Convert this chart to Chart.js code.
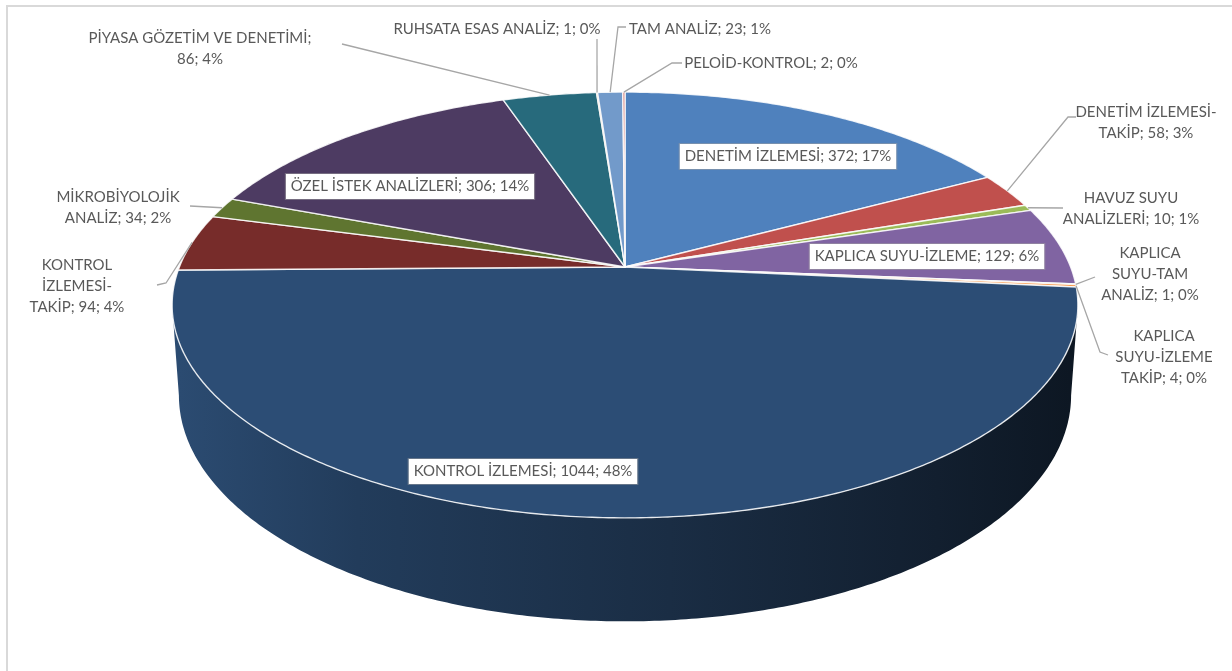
<!DOCTYPE html>
<html>
<head>
<meta charset="utf-8">
<script src="https://cdn.jsdelivr.net/npm/chart.js@4.4.1/dist/chart.umd.min.js"></script>
<style>
  html, body { margin: 0; padding: 0; background: #fff; overflow: hidden; }
  #frame { position: absolute; left: 6px; top: 5px; width: 1240px; height: 680px;
           border-left: 2px solid #d9d9d9; border-top: 2px solid #d9d9d9; }
  #pie { position: absolute; left: 0; top: 0; }
</style>
</head>
<body>
<div id="frame"></div>
<canvas id="pie" width="1232" height="671"></canvas>
<script>
const categories = [
  "DENETİM İZLEMESİ", "DENETİM İZLEMESİ-TAKİP", "HAVUZ SUYU ANALİZLERİ",
  "KAPLICA SUYU-İZLEME", "KAPLICA SUYU-TAM ANALİZ", "KAPLICA SUYU-İZLEME TAKİP",
  "KONTROL İZLEMESİ", "KONTROL İZLEMESİ-TAKİP", "MİKROBİYOLOJİK ANALİZ",
  "ÖZEL İSTEK ANALİZLERİ", "PİYASA GÖZETİM VE DENETİMİ", "RUHSATA ESAS ANALİZ",
  "TAM ANALİZ", "PELOİD-KONTROL"
];
const counts = [372, 58, 10, 129, 1, 4, 1044, 94, 34, 306, 86, 1, 23, 2];
const percents = [17, 3, 1, 6, 0, 0, 48, 4, 2, 14, 4, 0, 1, 0];

const colors = [
  "#4f81bd", "#c0504d", "#9bbb59", "#8064a2", "#4bacc6", "#f79646", "#2c4d75",
  "#772c2a", "#5f7530", "#4d3b62", "#276a7c", "#b65708", "#729aca", "#cd7371"
];

// label placement: box = white label on the slice, lines = pieces per wrapped line,
// leader = elbow points from the label towards the slice edge
const labelLayout = [
  { x: 788, y: 156, box: true },
  { x: 1146, y: 112, lines: [2, 3], leader: [[1076, 117], [1068, 117]] },
  { x: 1131, y: 198, lines: [2, 3], leader: [[1063, 208]] },
  { x: 927, y: 256, box: true },
  { x: 1150, y: 253, lines: [1, 2, 3], leader: [[1095, 277]] },
  { x: 1164, y: 336, lines: [1, 2, 3], leader: [[1108, 355], [1100, 352]] },
  { x: 523, y: 471, box: true },
  { x: 77, y: 265, lines: [1, 1, 3], leader: [[157, 285], [166, 283]] },
  { x: 118, y: 197, lines: [1, 3], leader: [[190, 206]] },
  { x: 410, y: 186, box: true },
  { x: 200, y: 38, lines: [4, 2], leader: [[342, 44]] },
  { x: 497, y: 29, leader: [[597, 39]] },
  { x: 629, y: 29, align: "left", leader: [[626, 27], [618, 27]] },
  { x: 771, y: 63, leader: [[682, 63], [672, 63]] }
];

// perspective of the tilted disc, relative to the pie's outer radius
const SX = 1.669, SY = 0.772, TILT = -0.1784, DEPTH = 0.33, BASE_SHRINK = 0.985;
const FRONT0 = Math.asin(-TILT), FRONT1 = Math.PI - Math.asin(-TILT);
const FONT = "15px Lato";
const TEXT = "#595959";
const LINE_H = 21;

function project(arc, theta, r, bottom) {
  const R = arc.outerRadius;
  const u = Math.cos(theta) * r, v = Math.sin(theta) * r;
  const den = 1 + TILT * v;
  const s = bottom ? BASE_SHRINK : 1;
  return [arc.x + R * SX * s * u / den, arc.y + R * (SY * s * v + (bottom ? DEPTH : 0)) / den];
}

function edgePoints(arc, a0, a1, bottom) {
  const n = Math.max(2, Math.ceil(Math.abs(a1 - a0) / 0.01));
  const pts = [];
  for (let k = 0; k <= n; k++) pts.push(project(arc, a0 + (a1 - a0) * k / n, 1, bottom));
  return pts;
}

function shade(hex, f) {
  const n = parseInt(hex.slice(1), 16);
  const c = [(n >> 16) & 255, (n >> 8) & 255, n & 255].map(x => Math.round(x * f));
  return `rgb(${c[0]},${c[1]},${c[2]})`;
}

const pie3d = {
  id: "pie3d",
  beforeDatasetsDraw(chart) {
    const ctx = chart.ctx;
    const arcs = chart.getDatasetMeta(0).data;
    const colorsUsed = chart.data.datasets[0].backgroundColor;
    ctx.save();

    // outer wall on the near side
    arcs.forEach((arc, i) => {
      const a0 = Math.max(arc.startAngle, FRONT0);
      const a1 = Math.min(arc.endAngle, FRONT1);
      if (a1 <= a0) return;
      const top = edgePoints(arc, a0, a1, false);
      const bot = edgePoints(arc, a1, a0, true);
      const left = arc.x - arc.outerRadius * SX, right = arc.x + arc.outerRadius * SX;
      const grad = ctx.createLinearGradient(left, 0, right, 0);
      grad.addColorStop(0, shade(colorsUsed[i], 0.97));
      grad.addColorStop(0.2, shade(colorsUsed[i], 0.78));
      grad.addColorStop(0.55, shade(colorsUsed[i], 0.58));
      grad.addColorStop(0.85, shade(colorsUsed[i], 0.4));
      grad.addColorStop(1, shade(colorsUsed[i], 0.3));
      ctx.beginPath();
      top.concat(bot).forEach((p, k) => k ? ctx.lineTo(p[0], p[1]) : ctx.moveTo(p[0], p[1]));
      ctx.closePath();
      ctx.fillStyle = grad;
      ctx.fill();
    });

    // top face of every slice
    arcs.forEach((arc, i) => {
      const pts = edgePoints(arc, arc.startAngle, arc.endAngle, false);
      ctx.beginPath();
      ctx.moveTo(arc.x, arc.y);
      pts.forEach(p => ctx.lineTo(p[0], p[1]));
      ctx.closePath();
      ctx.fillStyle = colorsUsed[i];
      ctx.fill();
      ctx.strokeStyle = "rgba(255,255,255,0.85)";
      ctx.lineWidth = 1.4;
      ctx.lineJoin = "round";
      ctx.stroke();
    });

    ctx.restore();
    return false;
  },
  afterDraw(chart) {
    const ctx = chart.ctx;
    const arcs = chart.getDatasetMeta(0).data;
    ctx.save();
    ctx.font = FONT;
    ctx.textBaseline = "middle";

    arcs.forEach((arc, i) => {
      const lay = labelLayout[i];
      const text = `${categories[i]}; ${counts[i]}; ${percents[i]}%`;

      if (lay.leader) {
        const mid = (arc.startAngle + arc.endAngle) / 2;
        const end = project(arc, mid, 1, false);
        ctx.beginPath();
        lay.leader.forEach((p, k) => k ? ctx.lineTo(p[0], p[1]) : ctx.moveTo(p[0], p[1]));
        ctx.lineTo(end[0], end[1]);
        ctx.strokeStyle = "#a6a6a6";
        ctx.lineWidth = 1.3;
        ctx.stroke();
      }

      let lines = [text];
      if (lay.lines) {
        const pieces = text.split(/(?<=[\s-])/);
        lines = [];
        let k = 0;
        lay.lines.forEach(n => { lines.push(pieces.slice(k, k + n).join("").trim()); k += n; });
      }

      if (lay.box) {
        const w = ctx.measureText(text).width;
        ctx.fillStyle = "#fff";
        ctx.fillRect(lay.x - w / 2 - 5, lay.y - 12, w + 10, 25);
        ctx.strokeStyle = "rgba(160,160,160,0.5)";
        ctx.lineWidth = 1;
        ctx.strokeRect(lay.x - w / 2 - 5.5, lay.y - 12.5, w + 11, 26);
      }

      ctx.textAlign = lay.align || "center";
      ctx.fillStyle = TEXT;
      lines.forEach((ln, k) => ctx.fillText(ln, lay.x, lay.y + k * LINE_H));
    });
    ctx.restore();
  }
};

new Chart(document.getElementById("pie"), {
  type: "pie",
  data: {
    labels: categories,
    datasets: [{ data: counts, backgroundColor: colors, borderWidth: 0 }]
  },
  options: {
    responsive: false,
    animation: false,
    layout: { padding: { left: 18, right: 0, top: 0, bottom: 137 } },
    plugins: { legend: { display: false }, tooltip: { enabled: false } }
  },
  plugins: [pie3d]
});
</script>
</body>
</html>
